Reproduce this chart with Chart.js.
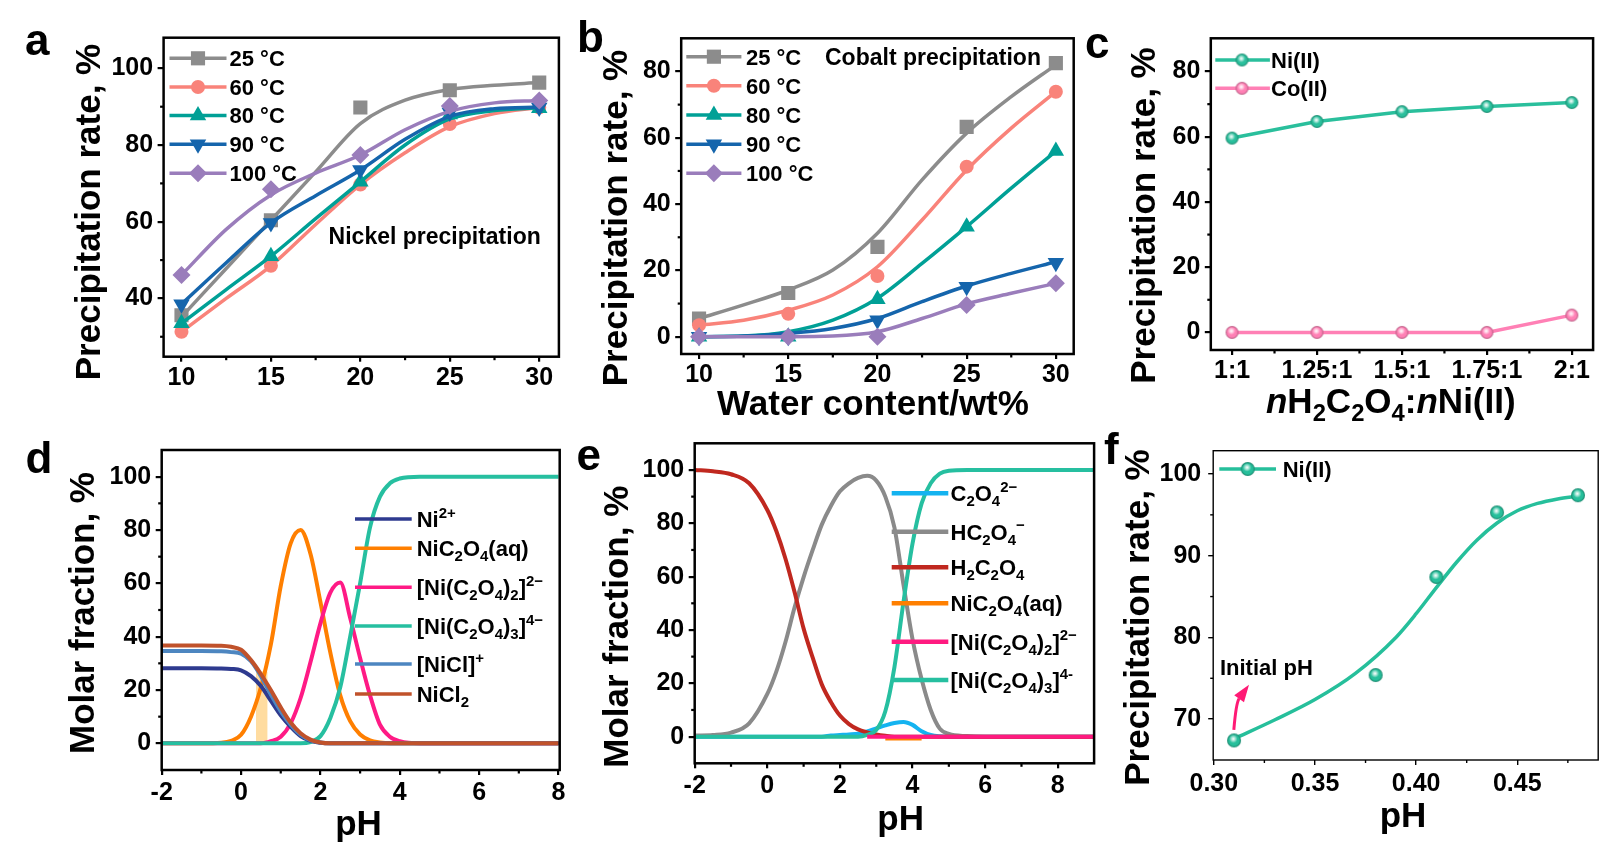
<!DOCTYPE html>
<html><head><meta charset="utf-8">
<script src="https://cdn.jsdelivr.net/npm/chart.js@4/dist/chart.umd.min.js"></script>
<style>
html,body{margin:0;padding:0;background:#fff;width:1615px;height:852px;overflow:hidden}
canvas{position:absolute;left:0;top:0}
</style></head><body>
<canvas id="pa" width="1615" height="852"></canvas>
<canvas id="pb" width="1615" height="852"></canvas>
<canvas id="pc" width="1615" height="852"></canvas>
<canvas id="pd" width="1615" height="852"></canvas>
<canvas id="pe" width="1615" height="852"></canvas>
<canvas id="pf" width="1615" height="852"></canvas>
<script>
// ================= DATA =================
// (a) Nickel precipitation vs water content (measured points)
const aWater = [10, 15, 20, 25, 30];
const aNi25 = [35.6, 60.4, 89.8, 94.3, 96.3];
const aNi60 = [31.3, 48.5, 69.7, 85.5, 89.8];
const aNi80 = [33.5, 51.0, 70.4, 88.0, 89.6];
const aNi90 = [38.5, 59.7, 73.5, 88.5, 89.8];
const aNi100 = [46.1, 68.5, 77.4, 90.2, 91.6];
// (a) smoothed curves
const aFitWater = [10, 12.5, 15, 17.5, 20, 22.5, 25, 27.5, 30];
const aFit25 = [35.2, 47.8, 60.4, 73.0, 85.6, 91.7, 94.5, 95.6, 96.3];
const aFit60 = [31.3, 40.0, 48.5, 59.3, 69.7, 78.0, 84.8, 88.2, 89.8];
const aFit80 = [33.5, 42.3, 51.0, 60.8, 70.4, 80.0, 86.8, 89.0, 89.7];
const aFit90 = [38.5, 49.3, 59.7, 66.8, 73.5, 81.5, 87.5, 89.5, 89.9];
const aFit100 = [46.1, 58.0, 67.0, 72.7, 77.4, 84.0, 88.8, 91.0, 91.6];
const aXTicks = [10, 15, 20, 25, 30];
const aYTicks = [40, 60, 80, 100];

// (b) Cobalt precipitation vs water content (measured points)
const bWater = [10, 15, 20, 25, 30];
const bCo25 = [5.5, 13.2, 27.1, 63.3, 82.5];
const bCo60 = [3.5, 6.9, 18.3, 51.3, 73.9];
const bCo80 = [0, 0, 11.3, 33.2, 56.0];
const bCo90 = [0, 0, 5.0, 15.1, 22.3];
const bCo100 = [0, 0, 0, 9.6, 16.1];
// (b) smoothed curves
const bFitWater = [10, 12.5, 15, 17.5, 20, 22.5, 25, 27.5, 30];
const bFit25 = [5.5, 9.6, 14.1, 20.1, 31.2, 47.3, 61.4, 72.4, 82.0];
const bFit60 = [3.5, 5.0, 8.0, 12.6, 21.1, 35.2, 50.3, 62.9, 73.9];
const bFit80 = [0, 0.2, 1.5, 5.0, 11.6, 22.1, 33.2, 44.8, 56.0];
const bFit90 = [0, 0.2, 1.0, 2.5, 5.5, 10.6, 15.3, 19.1, 22.6];
const bFit100 = [0, 0, 0, 0.2, 1.5, 5.5, 9.9, 13.1, 16.1];
const bXTicks = [10, 15, 20, 25, 30];
const bYTicks = [0, 20, 40, 60, 80];

// (c) precipitation vs molar ratio
const cRatios = ['1:1', '1.25:1', '1.5:1', '1.75:1', '2:1'];
const cNi = [59.6, 64.7, 67.7, 69.3, 70.5];
const cCo = [0, 0, 0, 0, 5.3];
const cYTicks = [0, 20, 40, 60, 80];

// (d) Ni speciation vs pH
const dPH = [-2, -1, -0.5, -0.25, 0, 0.25, 0.5, 0.75, 1, 1.25, 1.5, 1.75, 2, 2.25, 2.5, 2.75, 3, 3.25, 3.5, 3.75, 4, 4.5, 5, 6, 8];
const dNi2 = [28.2, 28.2, 28.1, 27.9, 27.4, 25.2, 21.5, 16.0, 10.5, 6.2, 2.7, 0.9, 0.2, 0, 0, 0, 0, 0, 0, 0, 0, 0, 0, 0, 0];
const dNiC2O4 = [0, 0, 0.2, 0.9, 3.2, 10, 21, 37, 59, 75, 80, 71, 53, 34, 18, 8.3, 3.3, 1.1, 0.3, 0, 0, 0, 0, 0, 0];
const dNiOx2 = [0, 0, 0, 0, 0, 0, 0, 0.8, 2.5, 7.5, 17, 30.5, 45, 56.5, 60.3, 47, 32, 18, 7, 2.5, 0.8, 0, 0, 0, 0];
const dNiOx3 = [0, 0, 0, 0, 0, 0, 0, 0, 0, 0, 0, 0.5, 2.7, 9.5, 21, 40, 60, 81, 92.5, 97.5, 99.3, 100, 100, 100, 100];
const dNiCl = [34.6, 34.6, 34.5, 34.2, 33.6, 30.8, 25.2, 18.3, 12.0, 7.0, 3.2, 1.1, 0.3, 0, 0, 0, 0, 0, 0, 0, 0, 0, 0, 0, 0];
const dNiCl2 = [36.7, 36.7, 36.6, 36.2, 35.1, 31.2, 26.0, 20.0, 13.5, 7.8, 3.8, 1.4, 0.3, 0, 0, 0, 0, 0, 0, 0, 0, 0, 0, 0, 0];
const dBandPH = [0.375, 0.67];
const dBandTop = [26.9, 26.9];
const dXTicks = [-2, 0, 2, 4, 6, 8];
const dYTicks = [0, 20, 40, 60, 80, 100];

// (e) oxalate speciation vs pH
const ePH = [-2, -1.5, -1, -0.5, 0, 0.25, 0.5, 0.75, 1, 1.25, 1.5, 1.75, 2, 2.25, 2.5, 2.75, 3, 3.25, 3.5, 3.75, 4, 4.25, 4.5, 4.75, 5, 5.5, 6, 7, 8, 9];
const eOx = [0, 0, 0, 0, 0, 0, 0, 0, 0, 0, 0, 0.4, 0.6, 0.8, 1.1, 2, 3.1, 4.2, 5.1, 5.5, 4.4, 2, 0.6, 0.1, 0, 0, 0, 0, 0, 0];
const eHOx = [0.4, 0.6, 1.5, 5, 16, 24.5, 35.5, 48.4, 59.8, 70, 79.5, 86.5, 92, 95, 97, 97.8, 96, 90, 78.5, 57, 36.5, 21.5, 10, 3, 1, 0.2, 0, 0, 0, 0];
const eH2Ox = [100, 99.5, 98.4, 95, 85, 77, 66.7, 54.2, 40.5, 29.6, 19.6, 13, 7.9, 4.7, 2.7, 1.6, 0.8, 0.3, 0, 0, 0, 0, 0, 0, 0, 0, 0, 0, 0, 0];
const eNiC2O4 = [null, null, null, null, null, null, null, null, null, null, null, null, null, null, null, null, null, -0.9, -0.9, -0.9, -0.9, -0.9, null, null, null, null, null, null, null, null];
const eNiOx2 = [null, null, null, null, null, null, null, null, null, null, null, null, null, null, null, 0, 0, 0, 0, 0, 0, 0, 0, 0, 0, 0, 0, 0, 0, 0];
const eNiOx3 = [0, 0, 0, 0, 0, 0, 0, 0, 0, 0, 0, 0, 0, 0, 0, 0.7, 2.5, 9.5, 26, 50.5, 72.5, 87.5, 95, 98.6, 99.7, 100, 100, 100, 100, 100];
const eXTicks = [-2, 0, 2, 4, 6, 8];
const eYTicks = [0, 20, 40, 60, 80, 100];

// (f) Ni precipitation vs pH
const fPH = [0.31, 0.38, 0.41, 0.44, 0.48];
const fNi = [67.4, 75.4, 87.4, 95.3, 97.4];
const fFitPH = [0.31, 0.33, 0.35, 0.37, 0.39, 0.40, 0.41, 0.42, 0.43, 0.44, 0.45, 0.46, 0.47, 0.48];
const fFitNi = [67.6, 69.9, 72.4, 75.6, 80.0, 82.9, 86.1, 89.2, 91.9, 94.0, 95.5, 96.4, 96.95, 97.3];
const fXTicks = [0.30, 0.35, 0.40, 0.45];
const fYTicks = [70, 80, 90, 100];

// ================= HELPERS =================
const FONT = "'Liberation Sans', Arial, Helvetica, sans-serif";
Chart.defaults.font.family = FONT;
const W = 1615, H = 852, YW = 70, XH = 50;

function xy(xs, ys) { return xs.map((x, i) => ({x: x, y: ys[i]})); }

function shade(hex, f) {
  const n = parseInt(hex.slice(1), 16);
  let r = (n >> 16) & 255, g = (n >> 8) & 255, b = n & 255;
  r = Math.round(r * (1 + f)); g = Math.round(g * (1 + f)); b = Math.round(b * (1 + f));
  return `rgb(${Math.min(255, r)},${Math.min(255, g)},${Math.min(255, b)})`;
}
function sphere(color, r) {
  const c = document.createElement('canvas');
  const s = Math.ceil(2 * r + 2); c.width = s; c.height = s;
  const g = c.getContext('2d'); const cx = s / 2, cy = s / 2;
  let gr = g.createRadialGradient(cx, cy, 0, cx, cy, r);
  gr.addColorStop(0, color); gr.addColorStop(0.7, color); gr.addColorStop(1, shade(color, -0.3));
  g.fillStyle = gr; g.beginPath(); g.arc(cx, cy, r, 0, Math.PI * 2); g.fill();
  const hx = cx - r * 0.1, hy = cy - r * 0.22;
  gr = g.createRadialGradient(hx, hy, 0, hx, hy, r * 0.6);
  gr.addColorStop(0, 'rgba(255,255,255,1)'); gr.addColorStop(0.35, 'rgba(255,255,255,0.7)'); gr.addColorStop(1, 'rgba(255,255,255,0)');
  g.fillStyle = gr; g.beginPath(); g.arc(cx, cy, r, 0, Math.PI * 2); g.fill();
  return c;
}

function ds(label, xs, ys, color, extra) {
  return Object.assign({
    label: label, data: xy(xs, ys), borderColor: color, backgroundColor: color,
    pointBackgroundColor: color, pointBorderColor: color, pointBorderWidth: 0,
    borderWidth: 3.5, pointRadius: 0, fill: false, tension: 0.4,
    cubicInterpolationMode: 'monotone', spanGaps: false
  }, extra || {});
}

function scaleOpt(axis, p) {
  return {
    type: 'linear', position: axis === 'x' ? 'bottom' : 'left', min: p.min, max: p.max,
    afterFit: s => { if (axis === 'x') s.height = XH; else s.width = YW; },
    afterBuildTicks: s => { s.ticks = p.ticks.map(v => ({value: v})); },
    ticks: {
      callback: p.fmt || (v => String(v)), font: {family: FONT, size: 25, weight: 'bold'},
      color: '#000', padding: p.pad, autoSkip: false, maxRotation: 0, minRotation: 0, includeBounds: false
    },
    grid: {display: true, drawOnChartArea: false, drawTicks: true, tickLength: p.tl, tickWidth: p.tw, tickColor: '#000', color: '#000', lineWidth: p.tw},
    border: {display: false}
  };
}

function makeChart(id, frame, xs, ys, datasets) {
  return new Chart(document.getElementById(id), {
    type: 'line',
    data: {datasets: datasets},
    options: {
      responsive: false, animation: false, devicePixelRatio: 1, events: [],
      layout: {padding: {left: frame.L - YW, top: frame.T, right: W - frame.R, bottom: H - frame.B - XH}},
      plugins: {legend: {display: false}, tooltip: {enabled: false}},
      scales: {x: scaleOpt('x', xs), y: scaleOpt('y', ys)}
    }
  });
}

// ---- rich text: _x / _{..} subscript, ^x / ^{..} superscript, *..* italic
function parseRich(s) {
  const segs = []; let italic = false, cur = '', i = 0;
  const push = (t, mode) => { if (t) segs.push({t: t, mode: mode, italic: italic}); };
  while (i < s.length) {
    const c = s[i];
    if (c === '*') { push(cur, 'n'); cur = ''; italic = !italic; i++; continue; }
    if (c === '_' || c === '^') {
      push(cur, 'n'); cur = '';
      let t;
      if (s[i + 1] === '{') { const j = s.indexOf('}', i + 2); t = s.slice(i + 2, j); i = j + 1; }
      else { t = s[i + 1]; i += 2; }
      push(t, c === '_' ? 'sub' : 'sup');
      continue;
    }
    cur += c; i++;
  }
  push(cur, 'n');
  return segs;
}
function segFont(seg, size, weight) {
  const sz = seg.mode === 'n' ? size : size * 0.68;
  return (seg.italic ? 'italic ' : '') + weight + ' ' + sz + 'px ' + FONT;
}
function drawRich(ctx, s, x, y, size, opt) {
  opt = opt || {};
  const weight = opt.weight || 'bold';
  const segs = parseRich(s);
  let w = 0;
  segs.forEach(sg => { ctx.font = segFont(sg, size, weight); sg.w = ctx.measureText(sg.t).width; w += sg.w; });
  let sx = opt.align === 'center' ? x - w / 2 : (opt.align === 'right' ? x - w : x);
  ctx.textAlign = 'left';
  ctx.textBaseline = opt.baseline || 'alphabetic';
  ctx.fillStyle = opt.color || '#000';
  segs.forEach(sg => {
    ctx.font = segFont(sg, size, weight);
    const dy = sg.mode === 'sub' ? size * 0.24 : (sg.mode === 'sup' ? -size * 0.42 : 0);
    ctx.fillText(sg.t, sx, y + dy);
    sx += sg.w;
  });
}

function drawMarker(ctx, d, x, y) {
  const st = d.pointStyle, r = d.pointRadius;
  if (!st || !r) return;
  if (typeof st !== 'string') { ctx.drawImage(st, x - st.width / 2, y - st.height / 2); return; }
  ctx.save(); ctx.translate(x, y); ctx.rotate((d.pointRotation || 0) * Math.PI / 180);
  ctx.fillStyle = d.pointBackgroundColor || d.borderColor;
  ctx.beginPath();
  if (st === 'circle') ctx.arc(0, 0, r, 0, Math.PI * 2);
  else if (st === 'rect') { const h = Math.SQRT1_2 * r; ctx.rect(-h, -h, 2 * h, 2 * h); }
  else if (st === 'rectRot') { ctx.moveTo(-r, 0); ctx.lineTo(0, -r); ctx.lineTo(r, 0); ctx.lineTo(0, r); ctx.closePath(); }
  else if (st === 'triangle') {
    for (let k = 0; k < 3; k++) { const an = k * 2 * Math.PI / 3; const px = Math.sin(an) * r, py = -Math.cos(an) * r; if (k === 0) ctx.moveTo(px, py); else ctx.lineTo(px, py); }
    ctx.closePath();
  }
  ctx.fill(); ctx.restore();
}

const DECO = {};
const decoPlugin = {
  id: 'deco',
  afterDraw(chart) {
    const d = DECO[chart.canvas.id]; if (!d) return;
    const ctx = chart.ctx, a = chart.chartArea, sx = chart.scales.x, sy = chart.scales.y;
    ctx.save();
    ctx.strokeStyle = '#000'; ctx.lineCap = 'butt';
    ctx.lineWidth = d.tickW;
    (d.xMinor || []).forEach(v => { const p = sx.getPixelForValue(v); ctx.beginPath(); ctx.moveTo(p, a.bottom); ctx.lineTo(p, a.bottom + d.minorLen); ctx.stroke(); });
    (d.yMinor || []).forEach(v => { const p = sy.getPixelForValue(v); ctx.beginPath(); ctx.moveTo(a.left, p); ctx.lineTo(a.left - d.minorLen, p); ctx.stroke(); });
    ctx.lineWidth = d.frameW; ctx.lineJoin = 'miter';
    ctx.strokeRect(a.left, a.top, a.right - a.left, a.bottom - a.top);
    if (d.arrow) {
      const A = d.arrow;
      const x0 = sx.getPixelForValue(A.x0), y0 = sy.getPixelForValue(A.y0);
      const x1 = sx.getPixelForValue(A.x1), y1 = sy.getPixelForValue(A.y1);
      const cxp = x0 + (x1 - x0) * 0.15, cyp = y0 + (y1 - y0) * 0.6;
      const ang = Math.atan2(y1 - cyp, x1 - cxp);
      const bx = x1 - Math.cos(ang) * A.head, by = y1 - Math.sin(ang) * A.head;
      ctx.strokeStyle = A.color; ctx.fillStyle = A.color; ctx.lineWidth = A.lw;
      ctx.beginPath(); ctx.moveTo(x0, y0); ctx.quadraticCurveTo(cxp, cyp, bx, by); ctx.stroke();
      ctx.beginPath(); ctx.moveTo(x1, y1);
      ctx.lineTo(bx + Math.sin(ang) * A.headW / 2, by - Math.cos(ang) * A.headW / 2);
      ctx.lineTo(bx - Math.sin(ang) * A.headW / 2, by + Math.cos(ang) * A.headW / 2);
      ctx.closePath(); ctx.fill();
    }
    if (d.legend) {
      const L = d.legend;
      L.items.forEach((it, i) => {
        const y = L.rows[i];
        const ld = chart.data.datasets[it.line];
        const md = it.marker !== undefined ? chart.data.datasets[it.marker] : null;
        ctx.strokeStyle = ld.borderColor; ctx.lineWidth = L.lw || ld.borderWidth; ctx.lineCap = 'butt';
        ctx.beginPath(); ctx.moveTo(L.x0, y); ctx.lineTo(L.x1, y); ctx.stroke();
        if (md) drawMarker(ctx, md, L.mx, y);
        drawRich(ctx, (md || ld).label, L.tx, y + 0.716 * L.size / 2, L.size, {});
      });
    }
    (d.texts || []).forEach(t => {
      if (t.rot) {
        ctx.save(); ctx.translate(t.x, t.y); ctx.rotate(t.rot * Math.PI / 180);
        drawRich(ctx, t.t, 0, 0, t.size, {align: 'center', baseline: 'middle'});
        ctx.restore();
      } else {
        drawRich(ctx, t.t, t.x, t.y, t.size, {align: t.align || 'left'});
      }
    });
    ctx.restore();
  }
};
Chart.register(decoPlugin);

const YT = 'Precipitation rate, %';
const MF = 'Molar fraction, %';
const LEG5 = [0, 1, 2, 3, 4].map(i => ({line: i + 5, marker: i}));

// marker + smoothed-curve dataset pairs
function seriesPair(labels, xPts, yPts, xFit, yFit, colors, styles) {
  const pts = [], fits = [];
  labels.forEach((lb, k) => {
    const st = styles[k];
    pts.push(ds(lb, xPts, yPts[k], colors[k], Object.assign({showLine: false, order: 9 - 2 * k}, st)));
    fits.push(ds(lb + ' curve', xFit, yFit[k], colors[k], {order: 10 - 2 * k}));
  });
  return pts.concat(fits);
}
const tempLabels = ['25 °C', '60 °C', '80 °C', '90 °C', '100 °C'];
const colA = ['#8C8C8C', '#F9837A', '#00A096', '#1565AC', '#9A7DBB'];
const styA = [
  {pointStyle: 'rect', pointRadius: 10},
  {pointStyle: 'circle', pointRadius: 7},
  {pointStyle: 'triangle', pointRadius: 9.5},
  {pointStyle: 'triangle', pointRotation: 180, pointRadius: 9.5},
  {pointStyle: 'rectRot', pointRadius: 9}
];

// ================= PANEL a =================
DECO.pa = {
  frameW: 2.5, tickW: 2.2, minorLen: 3.5,
  xMinor: [12.5, 17.5, 22.5, 27.5], yMinor: [30, 50, 70, 90],
  legend: {x0: 169.5, x1: 226.5, mx: 198, tx: 229.5, rows: [58.3, 87, 115.5, 144.3, 173.3], size: 22, items: LEG5},
  texts: [
    {t: 'a', x: 25, y: 55, size: 44},
    {t: YT, x: 90, y: 212, size: 35, rot: -90},
    {t: 'Nickel precipitation', x: 328.6, y: 244.3, size: 23}
  ]
};
makeChart('pa', {L: 163.6, T: 37.7, R: 558.9, B: 356.7},
  {min: 9, max: 31.1, ticks: aXTicks, pad: 1.5, tl: 5, tw: 2.2},
  {min: 24.8, max: 108, ticks: aYTicks, pad: 4.5, tl: 6, tw: 2.2},
  seriesPair(tempLabels, aWater, [aNi25, aNi60, aNi80, aNi90, aNi100], aFitWater, [aFit25, aFit60, aFit80, aFit90, aFit100], colA, styA));

// ================= PANEL b =================
DECO.pb = {
  frameW: 2.5, tickW: 2.2, minorLen: 3.5,
  xMinor: [12.5, 17.5, 22.5, 27.5], yMinor: [10, 30, 50, 70],
  legend: {x0: 686.3, x1: 741.4, mx: 713.9, tx: 745.9, rows: [56.7, 85.7, 115, 144.3, 173.3], size: 22, items: LEG5},
  texts: [
    {t: 'b', x: 577, y: 52, size: 44},
    {t: YT, x: 617.5, y: 218, size: 35, rot: -90},
    {t: 'Water content/wt%', x: 873, y: 415, size: 35, align: 'center'},
    {t: 'Cobalt precipitation', x: 825, y: 65, size: 23}
  ]
};
makeChart('pb', {L: 681.2, T: 38.3, R: 1073.7, B: 354},
  {min: 9, max: 31, ticks: bXTicks, pad: 1.5, tl: 5, tw: 2.2},
  {min: -5.2, max: 90, ticks: bYTicks, pad: 4.5, tl: 6, tw: 2.2},
  seriesPair(tempLabels, bWater, [bCo25, bCo60, bCo80, bCo90, bCo100], bFitWater, [bFit25, bFit60, bFit80, bFit90, bFit100], colA, styA));

// ================= PANEL c =================
const cTeal = '#2ABF9C', cPink = '#FF80B5';
DECO.pc = {
  frameW: 2.5, tickW: 2.2, minorLen: 3.5,
  xMinor: [0.5, 1.5, 2.5, 3.5], yMinor: [10, 30, 50, 70],
  legend: {x0: 1215.3, x1: 1269.9, mx: 1242, tx: 1271, rows: [60, 88.3], size: 22, items: [{line: 0, marker: 0}, {line: 1, marker: 1}]},
  texts: [
    {t: 'c', x: 1085, y: 58, size: 44},
    {t: YT, x: 1145.6, y: 215.5, size: 35, rot: -90},
    {t: '*n*H_2C_2O_4:*n*Ni(II)', x: 1390.8, y: 413, size: 35, align: 'center'}
  ]
};
const cIdx = cRatios.map((_, i) => i);
makeChart('pc', {L: 1210.8, T: 38.3, R: 1593.1, B: 350},
  {min: -0.25, max: 4.25, ticks: cIdx, fmt: v => cRatios[v], pad: 1.5, tl: 5, tw: 2.2},
  {min: -5.4, max: 90.2, ticks: cYTicks, pad: 4.5, tl: 6, tw: 2.2},
  [
    ds('Ni(II)', cIdx, cNi, cTeal, {pointStyle: sphere(cTeal, 6.5), pointRadius: 6.5, tension: 0, cubicInterpolationMode: 'default'}),
    ds('Co(II)', cIdx, cCo, cPink, {pointStyle: sphere(cPink, 6.5), pointRadius: 6.5, tension: 0, cubicInterpolationMode: 'default'})
  ]);

// ================= PANEL d =================
DECO.pd = {
  frameW: 2.5, tickW: 2.2, minorLen: 3.5,
  xMinor: [-1, 1, 3, 5, 7], yMinor: [10, 30, 50, 70, 90],
  legend: {x0: 355, x1: 411.7, tx: 416.7, rows: [519, 548.3, 587.3, 626, 664, 694], size: 22, lw: 3.5,
    items: [{line: 0}, {line: 1}, {line: 2}, {line: 3}, {line: 4}, {line: 5}]},
  texts: [
    {t: 'd', x: 25.5, y: 473.3, size: 44},
    {t: MF, x: 84.2, y: 613, size: 35, rot: -90},
    {t: 'pH', x: 358.5, y: 835, size: 35, align: 'center'}
  ]
};
makeChart('pd', {L: 161.7, T: 450, R: 559.7, B: 770},
  {min: -2, max: 8.03, ticks: dXTicks, pad: 3, tl: 5, tw: 2.2},
  {min: -10, max: 110, ticks: dYTicks, pad: 4.5, tl: 6, tw: 2.2},
  [
    ds('Ni^{2+}', dPH, dNi2, '#2E3A8F', {borderWidth: 4, order: 3}),
    ds('NiC_2O_4(aq)', dPH, dNiC2O4, '#FF7F00', {borderWidth: 4, order: 6}),
    ds('[Ni(C_2O_4)_2]^{2−}', dPH, dNiOx2, '#FF1A85', {borderWidth: 4, order: 5}),
    ds('[Ni(C_2O_4)_3]^{4−}', dPH, dNiOx3, '#26BFA0', {borderWidth: 4, order: 4}),
    ds('[NiCl]^+', dPH, dNiCl, '#4D86C0', {borderWidth: 4, order: 2}),
    ds('NiCl_2', dPH, dNiCl2, '#C0522B', {borderWidth: 4, order: 1}),
    ds('band', dBandPH, dBandTop, '#FFDCA0', {borderWidth: 0, fill: 'origin', backgroundColor: '#FFDCA0', tension: 0, cubicInterpolationMode: 'default', order: 20})
  ]);

// ================= PANEL e =================
DECO.pe = {
  frameW: 2.5, tickW: 2.2, minorLen: 3.5,
  xMinor: [-1, 1, 3, 5, 7], yMinor: [10, 30, 50, 70, 90],
  legend: {x0: 891.7, x1: 948.3, tx: 950.5, rows: [493.3, 531.7, 567.3, 603.3, 641.7, 680], size: 22, lw: 4.5,
    items: [{line: 0}, {line: 1}, {line: 2}, {line: 3}, {line: 4}, {line: 5}]},
  texts: [
    {t: 'e', x: 576.5, y: 470, size: 44},
    {t: MF, x: 618.2, y: 626.7, size: 35, rot: -90},
    {t: 'pH', x: 900.6, y: 830, size: 35, align: 'center'}
  ]
};
makeChart('pe', {L: 694.7, T: 443.3, R: 1094.1, B: 763.3},
  {min: -2, max: 9, ticks: eXTicks, pad: 3, tl: 5, tw: 2.2},
  {min: -10, max: 110, ticks: eYTicks, pad: 4.5, tl: 6, tw: 2.2},
  [
    ds('C_2O_4^{2−}', ePH, eOx, '#14B3F0', {borderWidth: 4, order: 6}),
    ds('HC_2O_4^−', ePH, eHOx, '#8A8A8A', {borderWidth: 4, order: 5}),
    ds('H_2C_2O_4', ePH, eH2Ox, '#C0281F', {borderWidth: 4, order: 4}),
    ds('NiC_2O_4(aq)', ePH, eNiC2O4, '#FF7F00', {borderWidth: 3, order: 3}),
    ds('[Ni(C_2O_4)_2]^{2−}', ePH, eNiOx2, '#FF1A80', {borderWidth: 4, order: 1}),
    ds('[Ni(C_2O_4)_3]^{4-}', ePH, eNiOx3, '#26BFA0', {borderWidth: 4, order: 2})
  ]);

// ================= PANEL f =================
const fTeal = '#26BF9B';
DECO.pf = {
  frameW: 1.4, tickW: 1.4, minorLen: 3,
  xMinor: [0.325, 0.375, 0.425, 0.475], yMinor: [75, 85, 95],
  legend: {x0: 1219.3, x1: 1276, mx: 1247.7, tx: 1282.7, rows: [469], size: 22, items: [{line: 1, marker: 0}]},
  arrow: {x0: 0.3099, y0: 68.7, x1: 0.3174, y1: 74.2, color: '#FF1A75', lw: 3, head: 17, headW: 12},
  texts: [
    {t: 'f', x: 1104, y: 464, size: 44},
    {t: YT, x: 1139.4, y: 617.5, size: 35, rot: -90},
    {t: 'pH', x: 1403, y: 826.7, size: 35, align: 'center'},
    {t: 'Initial pH', x: 1219.9, y: 675, size: 22}
  ]
};
makeChart('pf', {L: 1213.2, T: 450.7, R: 1598.2, B: 760},
  {min: 0.2997, max: 0.49, ticks: fXTicks, fmt: v => v.toFixed(2), pad: 4, tl: 5, tw: 1.4},
  {min: 65, max: 102.85, ticks: fYTicks, pad: 7, tl: 5, tw: 1.4},
  [
    ds('Ni(II)', fPH, fNi, fTeal, {pointStyle: sphere(fTeal, 7), pointRadius: 7, showLine: false, order: 1}),
    ds('Ni(II) fit', fFitPH, fFitNi, fTeal, {borderWidth: 3.5, order: 2})
  ]);
</script>
</body></html>
